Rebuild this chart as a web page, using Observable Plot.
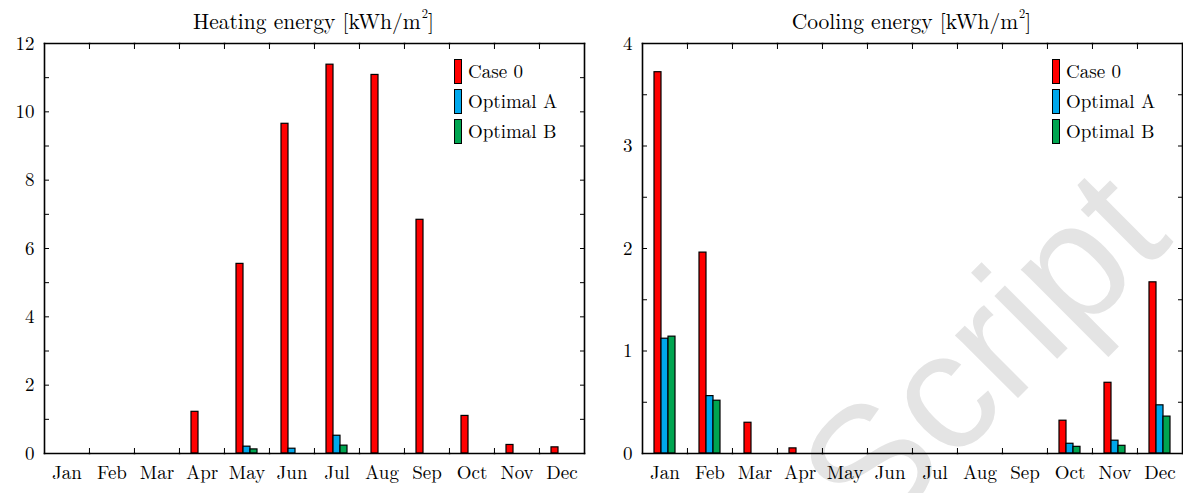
<!DOCTYPE html>
<html>
<head>
<meta charset="utf-8">
<script src="https://cdn.jsdelivr.net/npm/d3@7"></script>
<script src="https://cdn.jsdelivr.net/npm/@observablehq/plot@0.6"></script>
<style>
  html, body { margin: 0; padding: 0; background: #fff; }
  #fig { position: relative; width: 1183px; height: 493px; overflow: hidden; font-family: "Latin Modern Roman", "Liberation Serif", serif; color: #000; }
  .panel { position: absolute; top: 0; }
  .panel svg { background: transparent; overflow: visible; }
  .panel svg text { font-family: "Latin Modern Roman", "Liberation Serif", serif; }
  .title { position: absolute; top: 5px; font-size: 21.5px; text-align: center; white-space: nowrap; font-family: "Latin Modern Roman", "Liberation Serif", serif; }
  .title .sup { font-size: 0.58em; position: relative; top: -0.85em; margin-left: 1px; }
  .legend { position: absolute; font-size: 19px; font-family: "Latin Modern Roman", "Liberation Serif", serif; }
  .legend .row { position: relative; height: 30px; }
  .legend .sw { position: absolute; left: 0; top: 0; width: 6px; height: 23px; border: 1px solid #000; }
  .legend .lab { position: absolute; left: 14px; top: 1px; line-height: 22px; white-space: nowrap; }
  .stamp { position: absolute; font-family: "Liberation Sans", Arial, sans-serif; font-size: 168px; color: #e4e4e4; transform: translate(-50%, -50%) rotate(-45deg); white-space: nowrap; line-height: 1; }
</style>
</head>
<body>
<div id="fig"></div>
<script>
// Months and series
const months = ["Jan", "Feb", "Mar", "Apr", "May", "Jun", "Jul", "Aug", "Sep", "Oct", "Nov", "Dec"];
const series = ["Case 0", "Optimal A", "Optimal B"];
const seriesColors = ["#ff0000", "#00a8ec", "#00a550"];

// Monthly heating energy [kWh/m2]
const heatingCase0 = [0, 0, 0, 1.22, 5.55, 9.65, 11.38, 11.08, 6.84, 1.10, 0.25, 0.18];
const heatingOptA  = [0, 0, 0, 0, 0.20, 0.14, 0.52, 0, 0, 0, 0, 0];
const heatingOptB  = [0, 0, 0, 0, 0.12, 0, 0.23, 0, 0, 0, 0, 0];

// Monthly cooling energy [kWh/m2]
const coolingCase0 = [3.72, 1.96, 0.30, 0.05, 0, 0, 0, 0, 0, 0.32, 0.69, 1.67];
const coolingOptA  = [1.12, 0.56, 0, 0, 0, 0, 0, 0, 0, 0.095, 0.125, 0.47];
const coolingOptB  = [1.14, 0.515, 0, 0, 0, 0, 0, 0, 0, 0.065, 0.075, 0.36];

// Axis ticks
const heatingLabelTicks = [0, 2, 4, 6, 8, 10, 12];
const heatingMinorTicks = [0, 1, 2, 3, 4, 5, 6, 7, 8, 9, 10, 11, 12];
const coolingLabelTicks = [0, 1, 2, 3, 4];
const coolingMinorTicks = [0, 0.5, 1, 1.5, 2, 2.5, 3, 3.5, 4];

const HEIGHT = 493, MT = 43, MB = 40;
const FONT = "'Latin Modern Roman', 'Liberation Serif', serif";
const fig = document.getElementById("fig");

function panel({left, width, marginLeft, marginRight, values, yMax, labelTicks, minorTicks, title}) {
  const rows = months.flatMap((m, i) => series.map((s, k) => ({month: m, series: s, value: values[k][i]})));
  const bw = (width - marginLeft - marginRight) / months.length;
  const chart = Plot.plot({
    width, height: HEIGHT, marginTop: MT, marginBottom: MB, marginLeft, marginRight,
    style: {fontFamily: FONT, fontSize: "19px", color: "#000", background: "transparent"},
    fx: {domain: months, padding: 0, axis: null, label: null},
    x: {domain: series, paddingInner: 0, paddingOuter: 1.5, axis: null},
    y: {domain: [0, yMax], axis: null},
    color: {domain: series, range: seriesColors},
    marks: [
      Plot.barY(rows, {fx: "month", x: "series", y: "value", fill: "series", stroke: "#000", strokeWidth: 1.2}),
      Plot.frame({anchor: "top", strokeWidth: 1.6}),
      Plot.frame({anchor: "bottom", strokeWidth: 1.6}),
      Plot.frame({anchor: "left", facetAnchor: "left", strokeWidth: 1.6}),
      Plot.frame({anchor: "right", facetAnchor: "right", strokeWidth: 1.6}),
      Plot.axisY({anchor: "left", ticks: minorTicks, tickSize: -5, tickFormat: () => "", label: null}),
      Plot.axisY({anchor: "right", ticks: minorTicks, tickSize: -5, tickFormat: () => "", label: null}),
      Plot.axisY({anchor: "left", ticks: labelTicks, tickSize: 0, tickPadding: 10, tickFormat: (d) => String(d), label: null}),
      Plot.axisFx({anchor: "bottom", tickSize: 0, tickPadding: 12, label: null}),
      Plot.axisFx({anchor: "bottom", ticks: months.slice(1), tickSize: -5, tickFormat: () => "", label: null, dx: -bw / 2}),
      Plot.axisFx({anchor: "top", ticks: months.slice(1), tickSize: -5, tickFormat: () => "", label: null, dx: -bw / 2})
    ]
  });
  const wrap = document.createElement("div");
  wrap.className = "panel";
  wrap.style.left = left + "px";
  wrap.appendChild(chart);
  fig.appendChild(wrap);

  // title above the frame
  const t = document.createElement("div");
  t.className = "title";
  t.style.left = (left + marginLeft) + "px";
  t.style.width = (width - marginLeft - marginRight) + "px";
  t.innerHTML = title + ' [kWh/m<span class="sup">2</span>]';
  fig.appendChild(t);

  // legend in the upper right corner of the frame
  const lg = document.createElement("div");
  lg.className = "legend";
  lg.style.left = (left + width - marginRight - 130) + "px";
  lg.style.top = "59px";
  series.forEach((s, k) => {
    const row = document.createElement("div");
    row.className = "row";
    row.innerHTML = `<div class="sw" style="background:${seriesColors[k]}"></div><div class="lab">${s}</div>`;
    lg.appendChild(row);
  });
  fig.appendChild(lg);
}

// faint stamp behind the right panel
const stamp = document.createElement("div");
stamp.className = "stamp";
stamp.style.left = "982px";
stamp.style.top = "352px";
stamp.textContent = "Script";
fig.appendChild(stamp);

panel({left: 0, width: 600, marginLeft: 43, marginRight: 16,
  values: [heatingCase0, heatingOptA, heatingOptB], yMax: 12,
  labelTicks: heatingLabelTicks, minorTicks: heatingMinorTicks, title: "Heating energy"});
panel({left: 600, width: 583, marginLeft: 41, marginRight: 1,
  values: [coolingCase0, coolingOptA, coolingOptB], yMax: 4,
  labelTicks: coolingLabelTicks, minorTicks: coolingMinorTicks, title: "Cooling energy"});
</script>
</body>
</html>
